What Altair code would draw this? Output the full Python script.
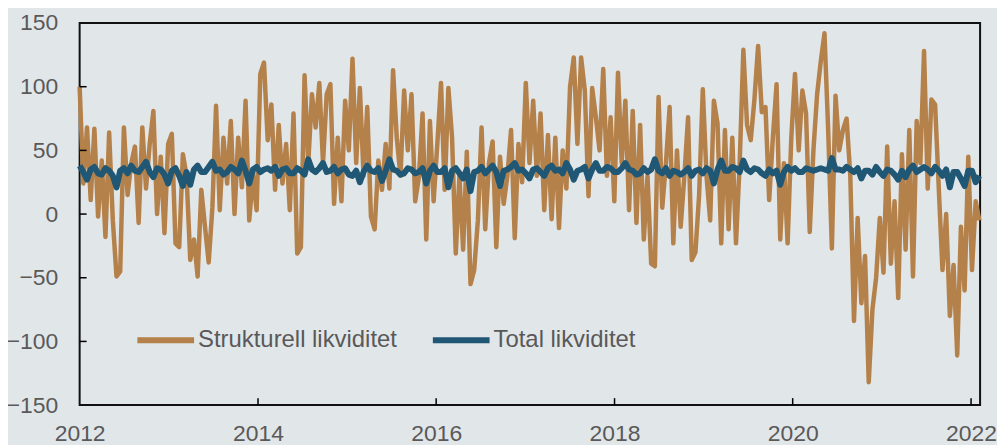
import altair as alt
import pandas as pd

# Strukturell likviditet (mrd. kr), roughly semi-monthly readings 2012 - Feb 2022
strukturell = [
    100, 24, 68, 11, 67, -2, 42, -18, 64, -5,
    -49, -45, 68, 15, 40, 53, -7, 68, 20, 55,
    81, 0, 45, -15, 55, 63, -23, -26, 47, 30,
    -36, -20, -49, 19, -10, -38, 5, 85, 3, 60,
    24, 73, 0, 60, 21, 89, -5, 30, 3, 110,
    119, 58,
    86, 19, 70, 24, 55, 3, 79, -31, -26, 109,
    40, 94, 68, 103, 40, 94, 102, 8, 60, 10,
    89, 50, 122, 40, 99, 30, 84, -2, -12, 42,
    19, 55, 20, 113, 60, 30, 97, 50, 94, 10,
    29, 79, -20, 73, 10, 55, 103, 19, 99,
    60, -31, 30, -28, 49, -55, -44, -5, 68, -12,
    40, 57, -26, 45, 8, 30, 66, -19, 55, 25,
    103, 40, 89, 30, 79, 3, 62, -4, 60, -11,
    50, 20, 100, 123, 55, 123, 97, 14, 99, 76,
    50, 114, 30, 76, 10, 111, 40, 89,
    3, 81, -7, 70, -20, 30, -39, -41, 92, 5,
    40, 84, -23, 50, -10, 30, 76, -36, -30, 15,
    98, 30, -5, 89, 71, -23, 66, -12, 60, -23,
    40, 129, 70, 58, 90, 132, 80, 84, 11, 60,
    102, -20, 40, -23, 60, 110, 50, 97,
    79, -14, 50, 94, 120, 142, 66, -27, 93, 50,
    66, 75, 30, -84, -3, -70, -33, -132, -75, -50,
    -3, -46, 53, -39, 10, -66, 47, -28, 66, -49,
    73, 40, 128, 20, 90, 86, 20, -44, 0, -80,
    -40, -111, -10, -60, 45, -44, 10, -5,
]

# Total likviditet, roughly semi-monthly readings
total = [
    38, 33, 27, 35, 37, 32, 31, 36, 34, 30, 21, 34, 36, 32, 38, 34, 33, 37, 41, 33,
    29, 36, 35, 31, 24, 34, 36, 30, 22, 33, 23, 35, 38, 33, 33, 37, 41, 34, 35, 31,
    33, 37, 35, 32, 42, 34, 24, 35, 37, 33, 35, 36,
    34, 37, 30, 35, 36, 32, 32, 36, 34, 31, 43, 35, 33, 36, 40, 33, 34, 37, 32, 35,
    36, 31, 30, 34, 25, 33, 38, 34, 33, 36, 26, 34, 43, 35, 34, 31, 32, 36, 35, 32,
    33, 36, 24, 34, 38, 33, 33, 36,
    21, 34, 36, 32, 28, 35, 18, 33, 34, 37, 32, 35, 38, 33, 22, 34, 35, 37, 40, 34,
    35, 32, 28, 35, 36, 33, 30, 36, 38, 34, 35, 32, 40, 35, 27, 34, 35, 37, 28, 35,
    40, 34, 34, 37, 36, 33, 33, 36,
    40, 35, 34, 31, 32, 36, 33, 35, 43, 34, 32, 36, 30, 34, 33, 31, 33, 36, 30, 34,
    35, 32, 36, 34, 24, 35, 42, 34, 34, 37, 36, 33, 42, 35, 33, 36, 35, 32, 30, 35,
    32, 34, 23, 33, 37, 34, 36, 33,
    33, 36, 35, 34, 35, 36, 35, 34, 44, 35, 35, 34, 37, 35, 33, 36, 28, 34, 34, 31,
    37, 33, 30, 35, 34, 31, 27, 34, 29, 35, 38, 33, 35, 37, 35, 32, 37, 34, 30, 35,
    21, 33, 33, 28, 22, 34, 34, 25, 30,
]

series_names = ["Strukturell likviditet", "Total likviditet"]
series_colors = ["#b5814a", "#1f5775"]
y_ticks = [-150, -100, -50, 0, 50, 100, 150]
x_tick_years = ["2012", "2014", "2016", "2018", "2020", "2022"]

start, end = "2012-01-01", "2022-02-04"
domain_end = "2022-02-07"

df_s = pd.DataFrame({
    "date": pd.date_range(start, end, periods=len(strukturell)),
    "value": strukturell,
    "series": series_names[0],
})
df_t = pd.DataFrame({
    "date": pd.date_range(start, end, periods=len(total)),
    "value": total,
    "series": series_names[1],
})
df_yt = pd.DataFrame({"v": y_ticks[1:-1]})
df_xt = pd.DataFrame({"d": pd.to_datetime([y + "-01-01" for y in x_tick_years[1:]])})

x_scale = alt.Scale(domain=[pd.Timestamp(start).isoformat(), pd.Timestamp(domain_end).isoformat()], nice=False)
y_scale = alt.Scale(domain=[-150, 150], nice=False)
color_scale = alt.Scale(domain=series_names, range=series_colors)

x_enc = alt.X(
    "date:T", scale=x_scale, title=None,
    axis=alt.Axis(values=[pd.Timestamp(y + "-01-01").isoformat() for y in x_tick_years],
                  format="%Y", labelFlush=False, ticks=False, domain=False, grid=False,
                  labelPadding=18, labelFontSize=23, labelColor="#595959",
                  labelFont="Liberation Sans", labelOverlap=False),
)
y_enc = alt.Y(
    "value:Q", scale=y_scale, title=None,
    axis=alt.Axis(values=y_ticks, labelFlush=False, ticks=False, domain=False, grid=False,
                  labelPadding=22, labelFontSize=23, labelColor="#595959",
                  labelFont="Liberation Sans"),
)

legend = alt.Legend(
    title=None, orient="none", direction="horizontal", legendX=55, legendY=287,
    symbolType="stroke", symbolSize=3249, symbolStrokeWidth=6, labelFontSize=24,
    labelColor="#595959", labelFont="Liberation Sans", columnPadding=23, labelOffset=1,
    padding=0, labelLimit=400,
)

color_enc = alt.Color("series:N", scale=color_scale, legend=legend)

line_s = alt.Chart(df_s).mark_line(strokeWidth=4.5, strokeJoin="round").encode(
    x=x_enc, y=y_enc, color=color_enc,
)
line_t = alt.Chart(df_t).mark_line(strokeWidth=6, strokeJoin="round").encode(
    x=alt.X("date:T", scale=x_scale),
    y=alt.Y("value:Q", scale=y_scale),
    color=color_enc,
)

ytick_marks = alt.Chart(df_yt).mark_rule(color="black", strokeWidth=1.5).encode(
    y=alt.Y("v:Q", scale=y_scale), x=alt.value(0), x2=alt.value(7),
)
xtick_marks = alt.Chart(df_xt).mark_rule(color="black", strokeWidth=1.5).encode(
    x=alt.X("d:T", scale=x_scale), y=alt.value(384), y2=alt.value(377),
)

chart = alt.layer(line_s, line_t, ytick_marks, xtick_marks).properties(
    width=905, height=384,
    autosize=alt.AutoSizeParams(type="none"),
    padding={"left": 72, "top": 14, "right": 17, "bottom": 39},
    background="#e1e6e9",
).configure_view(
    stroke="#111111", strokeWidth=2, fill="#e1e6e9",
)

chart.save("out.html", embed_options={"renderer": "svg", "actions": False})
